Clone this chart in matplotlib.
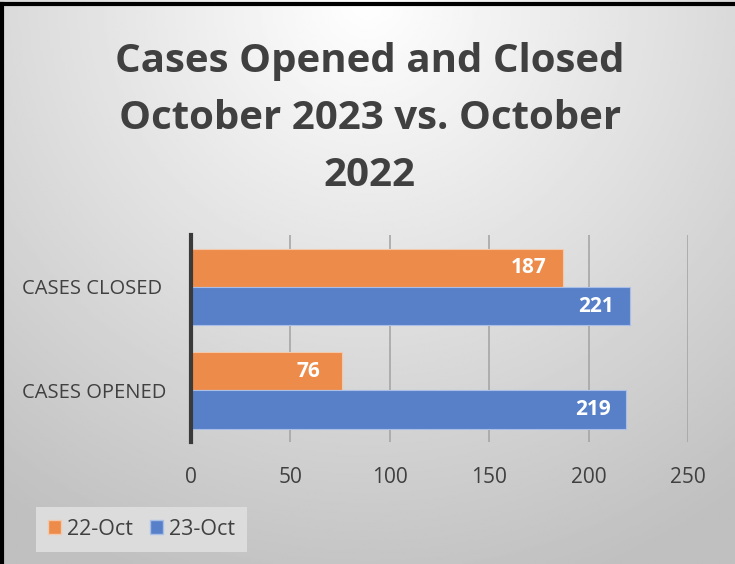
import numpy as np
import matplotlib
matplotlib.use("Agg")
import matplotlib.pyplot as plt
import matplotlib.transforms as mtransforms
from matplotlib.patches import Patch

plt.rcParams["font.family"] = ["Open Sans", "DejaVu Sans"]

categories = ["CASES OPENED", "CASES CLOSED"]
oct22 = [76, 187]
oct23 = [219, 221]
series_names = ["22-Oct", "23-Oct"]
x_ticks = [0, 50, 100, 150, 200, 250]
title = "Cases Opened and Closed\nOctober 2023 vs. October\n2022"

ORANGE = "#ED8B4A"
BLUE = "#5880C8"
TEXT = "#404040"

fig = plt.figure(figsize=(7.35, 5.64), dpi=100)

# background gradient: light at top centre, grey toward the lower corners
bg = fig.add_axes([0, 0, 1, 1])
yy, xx = np.mgrid[0:1:300j, 0:1:300j]
r = np.sqrt(((xx - 0.5) / 0.85) ** 2 + (yy / 1.1) ** 2)
shade = 1.0 - 0.25 * np.clip(r, 0, 1)
bg.imshow(shade, cmap="gray", vmin=0, vmax=1, extent=[0, 1, 0, 1],
          origin="upper", aspect="auto")
bg.plot([0.003, 0.003], [0, 0.993], color="black", lw=3)
bg.plot([0.003, 1], [0.993, 0.993], color="black", lw=3)
bg.set_xlim(0, 1)
bg.set_ylim(0, 1)
bg.axis("off")

fig.text(0.503, 0.790, title, ha="center", va="center", fontsize=29,
         fontweight="bold", color=TEXT, linespacing=1.6)

ax = fig.add_axes([0.260, 0.216, 0.676, 0.367])
ax.set_facecolor("none")
y = np.arange(len(categories))
h = 0.37
b1 = ax.barh(y + h / 2, oct22, height=h, color=ORANGE, edgecolor="#F3C9AE", lw=0.8)
b2 = ax.barh(y - h / 2, oct23, height=h, color=BLUE, edgecolor="#A9BFE8", lw=0.8)
for bars in (b1, b2):
    for bar in bars:
        w = bar.get_width()
        ax.text(w - 17, bar.get_y() + bar.get_height() / 2, f"{w:.0f}",
                ha="center", va="center", color="white", fontsize=15,
                fontweight="bold")

ax.set_xlim(0, 250)
ax.set_ylim(-0.5, 1.5)
ax.set_xticks(x_ticks)
ax.set_yticks(y)
ax.set_yticklabels(categories)
ax.tick_params(axis="both", length=0, colors=TEXT)
ax.tick_params(axis="x", pad=18, labelsize=15)
ax.tick_params(axis="y", labelsize=14.5)
ax.xaxis.grid(True, color="#A6A6A6", lw=1.2)
ax.set_axisbelow(True)
for s in ["top", "right", "bottom"]:
    ax.spines[s].set_visible(False)
ax.spines["left"].set_color("#3A3A3A")
ax.spines["left"].set_linewidth(3)
ax.spines["left"].set_zorder(5)

# category labels start near the left edge of the figure
for lab in ax.get_yticklabels():
    lab.set_transform(mtransforms.blended_transform_factory(
        fig.transFigure, ax.transData))
    lab.set_x(0.03)
    lab.set_ha("left")

handles = [Patch(facecolor=ORANGE, edgecolor="#F3C9AE"),
           Patch(facecolor=BLUE, edgecolor="#A9BFE8")]
leg = fig.legend(handles, series_names, loc="lower left",
                 bbox_to_anchor=(0.034, 0.003), ncol=2, frameon=True,
                 fontsize=15.5, handlelength=0.6, handleheight=0.6,
                 handletextpad=0.3, columnspacing=0.8, borderpad=0.55)
leg.get_frame().set_facecolor("#DCDCDC")
leg.get_frame().set_edgecolor("none")
leg.get_frame().set_alpha(1)
leg.get_frame().set_boxstyle("square", pad=0)
for t in leg.get_texts():
    t.set_color(TEXT)

fig.savefig("out.png", dpi=100)
